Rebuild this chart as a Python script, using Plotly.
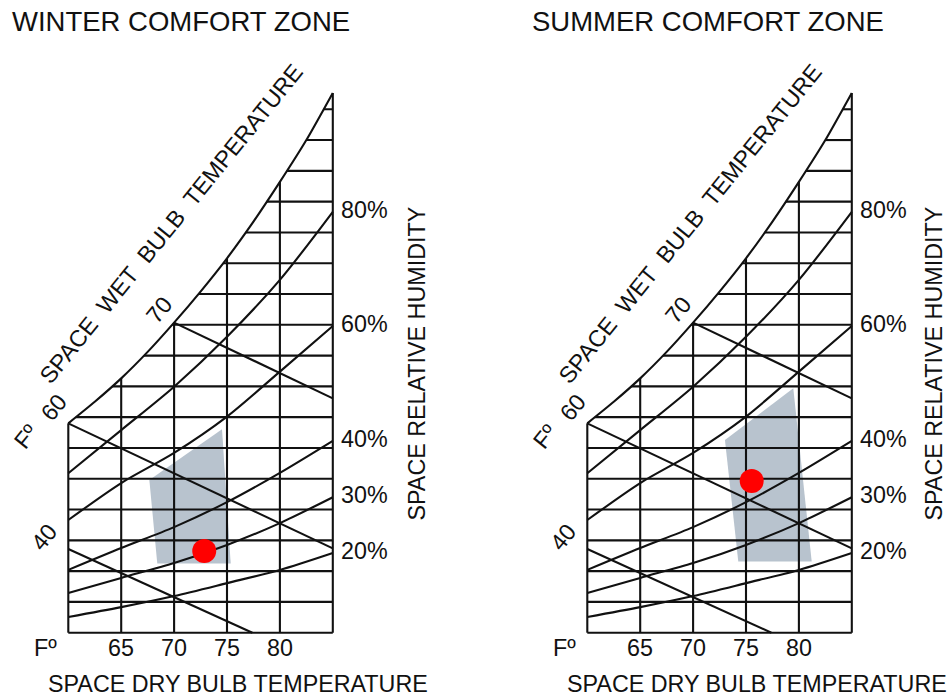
import numpy as np
import plotly.graph_objects as go

# ---------------- data ----------------
# dry-bulb temperature grid (°F) and tick labels
dry_bulb = [60, 65, 70, 75, 80, 85]
dry_bulb_ticks = [65, 70, 75, 80]
# horizontal moisture (humidity-ratio) grid levels, chart units
moisture_levels = list(range(0, 18))

# saturation curve (100% RH) – dry bulb °F vs moisture units
sat_T = [60, 62.5, 65, 67.5, 70, 72.5, 75, 77.5, 80, 82.5, 85]
sat_W = [6.80, 7.50, 8.26, 9.12, 10.07, 11.08, 12.16, 13.35, 14.64, 16.00, 17.53]

# relative humidity curves sampled at dry_bulb
rh_labels = ["80%", "60%", "40%", "30%", "20%"]
rh_80 = [5.18, 6.58, 7.99, 9.61, 11.46, 13.67]
rh_60 = [3.66, 4.86, 5.84, 7.02, 8.48, 9.96]
rh_40 = [2.04, 2.75, 3.43, 4.24, 5.19, 6.23]
rh_30 = [1.29, 1.78, 2.26, 2.85, 3.56, 4.40]
rh_20 = [0.51, 0.83, 1.19, 1.61, 2.04, 2.59]

# wet-bulb lines
wb_labels = ["40", "60", "70"]
wb_start_T = [60, 60, 70]
wb_start_W = [2.72, 6.80, 10.07]
wb_end_T = [77.4, 85, 85]
wb_end_W = [0.0, 2.74, 7.61]

# comfort zones and design points
winter_zone_T = [67.66, 74.53, 75.35, 68.41]
winter_zone_W = [4.96, 6.61, 2.25, 2.25]
winter_point_T = [72.85]
winter_point_W = [2.65]
summer_zone_T = [73.01, 79.47, 81.21, 74.27]
summer_zone_W = [6.26, 7.94, 2.31, 2.31]
summer_point_T = [75.54]
summer_point_W = [4.93]

# ---------------- styling ----------------
W_PX, H_PX = 951, 698
FONT = "Liberation Sans, Arial, Helvetica, sans-serif"
INK = "#111111"
LW = 2.1
ZONE_COLOR = "#b8c3ce"

fig = go.Figure()


def add_panel(xa, ya, zone_T, zone_W, pt_T, pt_W):
    # shaded comfort zone (under the grid)
    fig.add_trace(go.Scatter(x=zone_T + [zone_T[0]], y=zone_W + [zone_W[0]],
                             xaxis=xa, yaxis=ya, mode="lines", fill="toself",
                             fillcolor=ZONE_COLOR, line=dict(width=0),
                             hoverinfo="skip", showlegend=False))
    gx, gy = [], []
    # vertical dry-bulb lines from bottom up to the saturation curve
    for t in dry_bulb:
        top = float(np.interp(t, sat_T, sat_W))
        gx += [t, t, None]
        gy += [moisture_levels[0], top, None]
    # horizontal moisture lines from saturation curve to right edge
    for k in moisture_levels:
        start = dry_bulb[0] if k <= sat_W[0] else float(np.interp(k, sat_W, sat_T))
        gx += [start, dry_bulb[-1], None]
        gy += [k, k, None]
    fig.add_trace(go.Scatter(x=gx, y=gy, xaxis=xa, yaxis=ya, mode="lines",
                             line=dict(color=INK, width=LW), hoverinfo="skip",
                             showlegend=False, connectgaps=False))
    # saturation curve
    fig.add_trace(go.Scatter(x=sat_T, y=sat_W, xaxis=xa, yaxis=ya, mode="lines",
                             line=dict(color=INK, width=LW, shape="spline", smoothing=0.6),
                             hoverinfo="skip", showlegend=False))
    # RH curves
    for curve in [rh_80, rh_60, rh_40, rh_30, rh_20]:
        fig.add_trace(go.Scatter(x=dry_bulb, y=curve, xaxis=xa, yaxis=ya, mode="lines",
                                 line=dict(color=INK, width=LW, shape="spline", smoothing=0.8),
                                 hoverinfo="skip", showlegend=False))
    # wet-bulb lines
    wx, wy = [], []
    for t0, w0, t1, w1 in zip(wb_start_T, wb_start_W, wb_end_T, wb_end_W):
        wx += [t0, t1, None]
        wy += [w0, w1, None]
    fig.add_trace(go.Scatter(x=wx, y=wy, xaxis=xa, yaxis=ya, mode="lines",
                             line=dict(color=INK, width=LW), hoverinfo="skip",
                             showlegend=False))
    # design point
    fig.add_trace(go.Scatter(x=pt_T, y=pt_W, xaxis=xa, yaxis=ya, mode="markers",
                             marker=dict(color="#ff0000", size=24, line=dict(width=0)),
                             hoverinfo="skip", showlegend=False))


add_panel("x", "y", winter_zone_T, winter_zone_W, winter_point_T, winter_point_W)
add_panel("x2", "y2", summer_zone_T, summer_zone_W, summer_point_T, summer_point_W)

annotations = []


def ann(text, x, y, xref, yref, size=23.3, angle=0, xanchor="center",
        yanchor="middle", xshift=0, yshift=0):
    annotations.append(dict(text=text, x=x, y=y, xref=xref, yref=yref,
                            showarrow=False, textangle=angle, xanchor=xanchor,
                            yanchor=yanchor, xshift=xshift, yshift=yshift,
                            font=dict(family=FONT, size=size, color=INK)))


def px_ann(text, px, py, **kw):
    ann(text, px / W_PX, 1 - py / H_PX, "paper", "paper", **kw)


for xr, yr, dx, title in [("x", "y", 0, "WINTER COMFORT ZONE"),
                          ("x2", "y2", 519, "SUMMER COMFORT ZONE")]:
    px_ann(title, 10 + dx + (1 if dx else 0), 21, size=27.5, xanchor="left")
    px_ann("SPACE\u00a0 WET\u00a0 BULB\u00a0 TEMPERATURE", 171 + dx, 224, angle=-51)
    px_ann("SPACE DRY BULB TEMPERATURE", 237.5 + dx, 684)
    px_ann("SPACE RELATIVE HUMIDITY", 416.5 + dx - (2 if dx else 0), 364, angle=-90)
    px_ann("Fº", 45 + dx, 648)
    px_ann("Fº", 26 + dx, 437, angle=-51)
    # dry-bulb tick labels
    for t in dry_bulb_ticks:
        ann(str(t), t, moisture_levels[0], xr, yr, yshift=-15.5)
    # RH labels at the right edge
    for lab, curve in zip(rh_labels, [rh_80, rh_60, rh_40, rh_30, rh_20]):
        ann(lab, dry_bulb[-1], curve[-1], xr, yr, xanchor="left", xshift=6, yshift=2)
    # wet-bulb labels
    shifts = {"40": (-24, 12), "60": (-14, 16), "70": (-15, 13)}
    for lab, t0, w0 in zip(wb_labels, wb_start_T, wb_start_W):
        sx, sy = shifts[lab]
        ann(lab, t0, w0, xr, yr, angle=-51, xshift=sx, yshift=sy)

# axis geometry: 10.58 px per °F, 30.79 px per moisture unit
PX_T = 10.58
PX_W = 30.79
left_x0, right_x0, base_y = 68.3, 587.3, 632.7
xr1 = [60 - left_x0 / PX_T, 60 + (W_PX / 2 - left_x0) / PX_T]
xr2 = [60 - (right_x0 - W_PX / 2) / PX_T, 60 + (W_PX - right_x0) / PX_T]
yr = [-(H_PX - base_y) / PX_W, base_y / PX_W]

axis_common = dict(visible=False, showgrid=False, zeroline=False, fixedrange=True)
fig.update_layout(
    width=W_PX, height=H_PX,
    margin=dict(l=0, r=0, t=0, b=0),
    paper_bgcolor="white", plot_bgcolor="white",
    xaxis=dict(domain=[0, 0.5], range=xr1, **axis_common),
    xaxis2=dict(domain=[0.5, 1], range=xr2, **axis_common),
    yaxis=dict(domain=[0, 1], range=yr, **axis_common),
    yaxis2=dict(domain=[0, 1], range=yr, anchor="x2", **axis_common),
    annotations=annotations,
    showlegend=False,
)

fig.write_html("out.html", config={"displayModeBar": False},
               post_script="document.body.style.margin='0';document.body.style.overflow='hidden';")
